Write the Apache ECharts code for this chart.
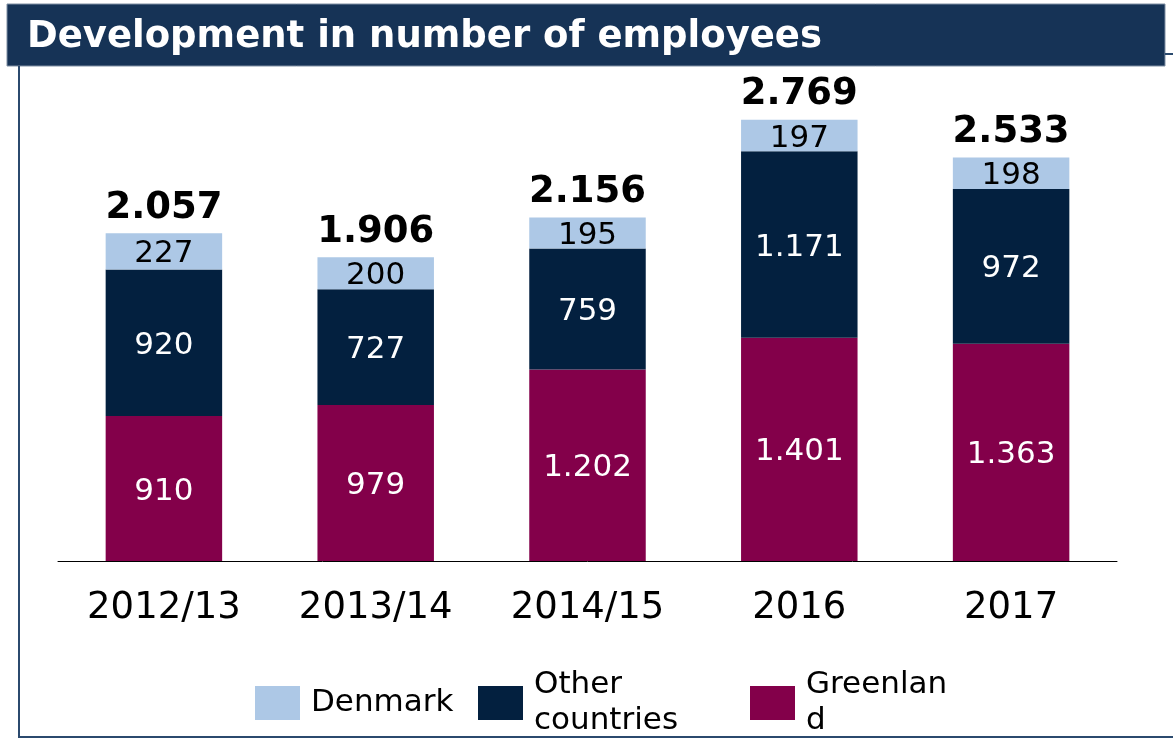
<!DOCTYPE html>
<html>
<head>
<meta charset="utf-8">
<script src="https://cdn.jsdelivr.net/npm/echarts@6/dist/echarts.min.js"></script>
<style>
  html, body { margin: 0; padding: 0; background: #fff; }
  #content { width: 1173px; height: 741px; }
</style>
</head>
<body>
<div id="content"></div>
<script>
// data
var years = ["2012/13", "2013/14", "2014/15", "2016", "2017"];
var greenland = [910, 979, 1202, 1401, 1363];
var otherCountries = [920, 727, 759, 1171, 972];
var denmark = [227, 200, 195, 197, 198];
var totals = [2057, 1906, 2156, 2769, 2533];

var FONT = "DejaVu Sans";

// danish style thousands: 1.202
function fmt(v) {
  if (v >= 1000) {
    return Math.floor(v / 1000) + "." + String(v % 1000).padStart(3, "0");
  }
  return String(v);
}

var chartDom = document.getElementById("content");
var myChart = echarts.init(chartDom);

function legendAt(name, left, top, text) {
  return {
    data: [name],
    left: left,
    top: top,
    padding: 0,
    itemWidth: 45,
    itemHeight: 34,
    icon: "rect",
    selectedMode: false,
    formatter: function () { return text; },
    textStyle: {
      fontFamily: FONT,
      fontSize: 31,
      lineHeight: 36,
      color: "#000",
      padding: [4, 0, 0, 6],
    },
  };
}

function insideLabel(color) {
  return {
    show: true,
    position: "inside",
    offset: [0, 3],
    fontFamily: FONT,
    fontSize: 31,
    color: color,
    formatter: function (p) { return fmt(p.value); },
  };
}

var option = {
  animation: false,
  title: {
    text: "Development in number of employees",
    left: 27,
    top: 19,
    padding: 0,
    textStyle: {
      fontFamily: FONT,
      fontWeight: "bold",
      fontSize: 37,
      color: "#fff",
    },
  },
  graphic: [
    {
      type: "rect",
      shape: { x: 7, y: 4, width: 1158, height: 62 },
      style: { fill: "#163356", stroke: "#7f8fa3", lineWidth: 1 },
      z: 0,
    },
    {
      type: "line",
      shape: { x1: 1165, y1: 54, x2: 1173, y2: 54 },
      style: { stroke: "#2b4a6e", lineWidth: 2 },
    },
    {
      type: "polyline",
      shape: { points: [[19, 66], [19, 737], [1173, 737]] },
      style: { stroke: "#2b4a6e", lineWidth: 2, fill: null },
    },
  ],
  legend: [
    legendAt("Denmark", 255, 683, "Denmark"),
    legendAt("Other countries", 478, 665, "Other\ncountries"),
    legendAt("Greenland", 750, 665, "Greenlan\nd"),
  ],
  grid: {
    left: 58,
    right: 56,
    top: 83,
    bottom: 180,
  },
  xAxis: {
    type: "category",
    data: years,
    axisTick: { show: false },
    axisLine: { lineStyle: { color: "#000", width: 1 } },
    axisLabel: {
      interval: 0,
      margin: 29,
      fontFamily: FONT,
      fontSize: 37,
      color: "#000",
    },
  },
  yAxis: {
    type: "value",
    min: 0,
    max: 3000,
    show: false,
    splitLine: { show: false },
  },
  series: [
    {
      name: "Greenland",
      type: "bar",
      stack: "total",
      barWidth: "55%",
      data: greenland,
      itemStyle: { color: "#83004a" },
      label: insideLabel("#fff"),
    },
    {
      name: "Other countries",
      type: "bar",
      stack: "total",
      barWidth: "55%",
      data: otherCountries,
      itemStyle: { color: "#03203f" },
      label: insideLabel("#fff"),
    },
    {
      name: "Denmark",
      type: "bar",
      stack: "total",
      barWidth: "55%",
      data: denmark,
      itemStyle: { color: "#adc8e6" },
      label: insideLabel("#000"),
    },
    {
      name: "Total",
      type: "scatter",
      data: totals,
      symbolSize: 1,
      itemStyle: { color: "transparent", opacity: 1 },
      label: {
        show: true,
        position: "top",
        distance: 6,
        fontFamily: FONT,
        fontWeight: "bold",
        fontSize: 37,
        color: "#000",
        formatter: function (p) { return fmt(p.value); },
      },
    },
  ],
};
myChart.setOption(option);
</script>
</body>
</html>
